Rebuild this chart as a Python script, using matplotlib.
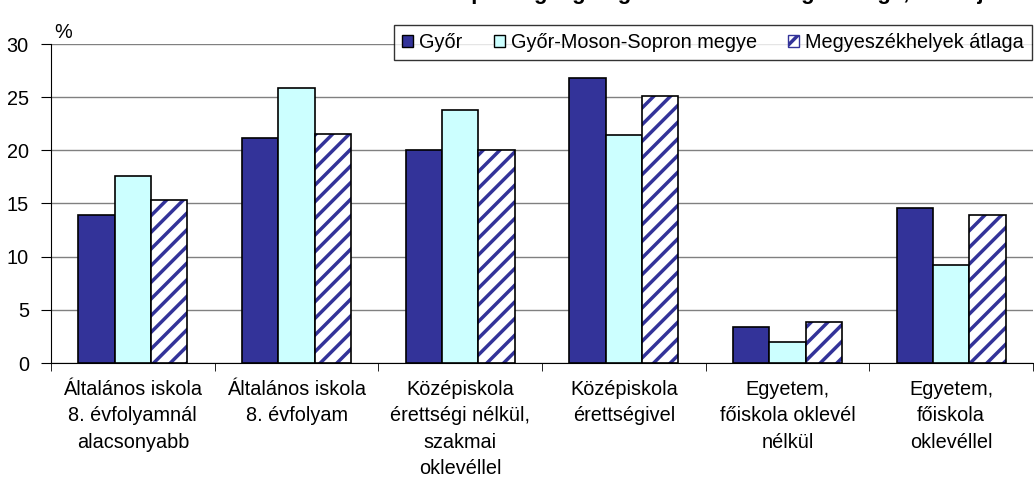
import numpy as np
import matplotlib
matplotlib.use("Agg")
import matplotlib.pyplot as plt
from matplotlib.patches import Patch

plt.rcParams['font.family'] = ['Liberation Sans', 'DejaVu Sans']
plt.rcParams['hatch.linewidth'] = 2.5

# Data
categories = [
    "Általános iskola\n8. évfolyamnál\nalacsonyabb",
    "Általános iskola\n8. évfolyam",
    "Középiskola\nérettségi nélkül,\nszakmai\noklevéllel",
    "Középiskola\nérettségivel",
    "Egyetem,\nfőiskola oklevél\nnélkül",
    "Egyetem,\nfőiskola\noklevéllel",
]
gyor = [13.9, 21.2, 20.0, 26.8, 3.4, 14.6]
megye = [17.6, 25.9, 23.8, 21.4, 2.0, 9.2]
atlag = [15.3, 21.5, 20.0, 25.1, 3.9, 13.9]
series_names = ["Győr", "Győr-Moson-Sopron megye", "Megyeszékhelyek átlaga"]
yticks = [0, 5, 10, 15, 20, 25, 30]
title = "A 7 éves és idősebb népesség legmagasabb iskolai végzettsége, 2001. január"

navy = "#333399"
cyan = "#CCFFFF"
fs = 14.3

fig = plt.figure(figsize=(10.34, 4.9), dpi=100)
ax = fig.add_axes([51 / 1034, 1 - 363 / 490, 982 / 1034, 319 / 490])

x = np.arange(len(categories))
w = 1 / 4.5

ax.bar(x - w, gyor, w, color=navy, edgecolor="black", linewidth=1.2, zorder=3)
ax.bar(x, megye, w, color=cyan, edgecolor="black", linewidth=1.2, zorder=3)
# hatched series: stripes first, then black outline on top
ax.bar(x + w, atlag, w, color="white", edgecolor=navy, hatch="//", linewidth=0, zorder=3)
ax.bar(x + w, atlag, w, fill=False, edgecolor="black", linewidth=1.2, zorder=4)

ax.set_xlim(-0.5, len(categories) - 0.5)
ax.set_ylim(0, 30)
ax.set_yticks(yticks)
ax.set_xticks(x)
ax.set_xticklabels(categories, fontsize=fs, linespacing=1.5)
ax.set_xticks(np.arange(len(categories) + 1) - 0.5, minor=True)
ax.tick_params(axis="x", which="major", length=0, pad=12)
ax.tick_params(axis="x", which="minor", length=6, color="black")
ax.tick_params(axis="y", labelsize=fs, length=7, color="black", pad=9)
ax.yaxis.grid(True, color="#808080", linewidth=1, zorder=0)
ax.set_axisbelow(True)

for s in ["top", "right"]:
    ax.spines[s].set_visible(False)
ax.spines["left"].set_color("black")
ax.spines["bottom"].set_color("black")

fig.text(54 / 1034, 1 - 32 / 490, "%", fontsize=fs, va="center")
# title sits mostly above the canvas, only its lower edge shows
fig.text(0.615, 1 + 1 / 490, title, fontsize=16, fontweight="bold", ha="center", va="baseline")

handles = [
    Patch(facecolor=navy, edgecolor="black"),
    Patch(facecolor=cyan, edgecolor="black"),
    Patch(facecolor="white", edgecolor=navy, hatch="//"),
]
leg = ax.legend(handles, series_names, ncol=3, loc="upper right",
                bbox_to_anchor=(1032 / 1034, 1 - 25 / 490), bbox_transform=fig.transFigure,
                borderaxespad=0, fontsize=fs, frameon=True, fancybox=False,
                handlelength=0.55, handleheight=0.55, handletextpad=0.3,
                columnspacing=1.6, borderpad=0.4)
leg.get_frame().set_edgecolor("black")
leg.get_frame().set_linewidth(1)
leg.set_zorder(10)

fig.savefig("out.png", dpi=100)
